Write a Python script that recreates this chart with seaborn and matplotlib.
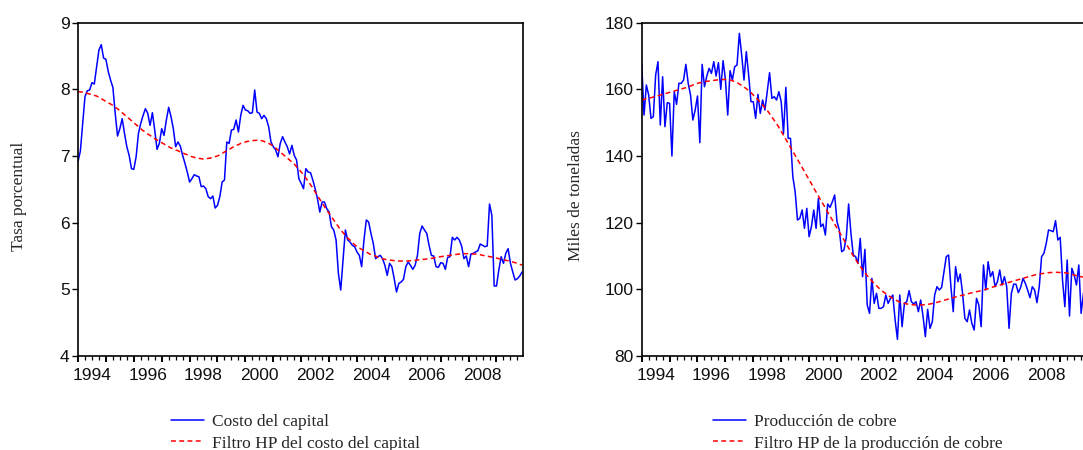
import numpy as np
import pandas as pd
import matplotlib
matplotlib.use("Agg")
import matplotlib.pyplot as plt
import seaborn as sns
from matplotlib.ticker import MultipleLocator, FixedLocator, NullFormatter

# ---------------- data (monthly, 1994M01 - 2009M12) ----------------
start_year = 1994

costo_capital = [
    6.92, 7.07, 7.49, 7.89, 7.98, 7.99, 8.10, 8.08, 8.34, 8.59,
    8.67, 8.47, 8.45, 8.27, 8.14, 8.03, 7.64, 7.30, 7.41, 7.56,
    7.34, 7.14, 7.01, 6.81, 6.80, 6.99, 7.34, 7.49, 7.61, 7.71,
    7.64, 7.46, 7.65, 7.39, 7.10, 7.19, 7.41, 7.31, 7.54, 7.73,
    7.59, 7.41, 7.14, 7.21, 7.15, 7.01, 6.89, 6.76, 6.61, 6.66,
    6.72, 6.70, 6.69, 6.54, 6.55, 6.51, 6.39, 6.36, 6.40, 6.22,
    6.26, 6.39, 6.61, 6.64, 7.21, 7.19, 7.39, 7.40, 7.54, 7.36,
    7.61, 7.76, 7.69, 7.68, 7.64, 7.65, 7.99, 7.66, 7.64, 7.56,
    7.61, 7.56, 7.44, 7.21, 7.14, 7.09, 6.99, 7.19, 7.29, 7.21,
    7.14, 7.03, 7.16, 7.01, 6.94, 6.66,
    6.59, 6.51, 6.81, 6.76, 6.75, 6.64, 6.51, 6.36, 6.16, 6.31,
    6.31, 6.21, 6.16, 5.94, 5.89, 5.74, 5.24, 4.99, 5.44, 5.89,
    5.74, 5.71, 5.66, 5.64, 5.56, 5.51, 5.34, 5.74, 6.04, 6.01,
    5.84, 5.69, 5.46, 5.49, 5.51, 5.46, 5.36, 5.21, 5.39, 5.34,
    5.16, 4.96, 5.09, 5.11, 5.15, 5.34, 5.41, 5.36, 5.30, 5.36,
    5.51, 5.84, 5.95, 5.89, 5.84, 5.66, 5.51, 5.50, 5.34, 5.33,
    5.40, 5.39, 5.30, 5.48, 5.49, 5.78, 5.74, 5.78, 5.74, 5.65,
    5.46, 5.50, 5.34, 5.53, 5.54, 5.56, 5.58, 5.68, 5.66, 5.64,
    5.65, 6.28, 6.11, 5.05, 5.05, 5.29, 5.49, 5.39, 5.54, 5.61,
    5.39, 5.26, 5.14, 5.16, 5.20, 5.26,
]

costo_hp = [
    7.97, 7.96, 7.96, 7.95, 7.94, 7.93, 7.92, 7.91, 7.90, 7.88,
    7.86, 7.84, 7.82, 7.80, 7.78, 7.76, 7.73, 7.71, 7.68, 7.65,
    7.62, 7.59, 7.56, 7.53, 7.50, 7.47, 7.44, 7.41, 7.38, 7.36,
    7.33, 7.31, 7.28, 7.26, 7.24, 7.22, 7.20, 7.18, 7.16, 7.14,
    7.12, 7.11, 7.09, 7.08, 7.06, 7.05, 7.03, 7.02, 7.00, 6.99,
    6.98, 6.97, 6.965, 6.96, 6.955, 6.96, 6.965, 6.97, 6.98, 6.99,
    7.00, 7.02, 7.04, 7.06, 7.08, 7.10, 7.12, 7.14, 7.16, 7.17,
    7.19, 7.20, 7.21, 7.22, 7.225, 7.23, 7.235, 7.235, 7.235, 7.23,
    7.22, 7.20, 7.19, 7.17, 7.15, 7.12, 7.09, 7.06, 7.03, 7.00,
    6.97, 6.94, 6.91, 6.88, 6.84, 6.80, 6.76, 6.72, 6.67, 6.62,
    6.57, 6.52, 6.46, 6.41, 6.35, 6.30, 6.24, 6.19, 6.14, 6.09,
    6.04, 5.99, 5.94, 5.89, 5.85, 5.81, 5.77, 5.74, 5.70, 5.67,
    5.64, 5.62, 5.60, 5.58, 5.56, 5.54, 5.52, 5.51, 5.50, 5.48,
    5.47, 5.46, 5.45, 5.445, 5.44, 5.435, 5.43, 5.43, 5.425, 5.425,
    5.425, 5.425, 5.425, 5.43, 5.43, 5.435, 5.44, 5.445, 5.45, 5.45,
    5.455, 5.46, 5.465, 5.47, 5.48, 5.485, 5.49, 5.495, 5.50, 5.505,
    5.51, 5.515, 5.52, 5.525, 5.53, 5.53, 5.535, 5.535, 5.535, 5.535,
    5.53, 5.53, 5.525, 5.52, 5.51, 5.505, 5.50, 5.49, 5.485, 5.48,
    5.47, 5.46, 5.455, 5.445, 5.435, 5.43, 5.42, 5.41, 5.40, 5.39,
    5.375, 5.365,
]

cobre = [
    167.8, 152.3, 161.3, 158.3, 151.3, 151.8, 164.3, 168.3, 149.3, 163.8,
    148.8, 156.0, 155.8, 140.0, 159.3, 155.5, 161.8, 161.8, 162.8, 167.5,
    161.8, 158.3, 150.8, 153.8, 158.0, 144.0, 167.5, 160.8, 164.0, 166.3,
    164.8, 168.3, 164.0, 168.0, 160.0, 168.6, 163.0, 152.3, 165.6, 162.8,
    166.8, 167.3, 176.8, 170.3, 162.8, 171.3, 164.3, 156.3, 156.3, 151.3,
    158.5, 152.8, 156.8, 153.8, 159.3, 165.0, 157.3, 157.8, 156.8, 159.3,
    156.3, 146.8, 160.6, 145.3, 145.3, 133.8, 129.3, 120.8, 121.3, 123.8,
    118.3, 124.3, 115.8, 118.8, 123.8, 118.3, 127.3, 118.8, 119.6, 116.3,
    125.6, 124.6, 126.3, 128.3, 120.3, 117.8,
    111.3, 111.8, 115.6, 125.6, 116.8, 110.3, 109.8, 107.8, 115.3, 103.8,
    112.0, 95.3, 92.8, 103.3, 95.8, 98.8, 94.3, 94.3, 94.8, 98.3,
    95.8, 97.3, 98.3, 90.8, 85.0, 98.3, 88.8, 95.8, 96.3, 99.6,
    96.3, 95.6, 96.3, 93.3, 96.8, 92.0, 85.8, 94.0, 88.3, 90.3,
    98.3, 100.8, 99.8, 100.6, 105.3, 109.8, 110.3, 100.8, 93.3, 106.8,
    102.3, 104.6, 98.8, 91.3, 90.3, 93.8, 89.8, 87.8, 97.3, 95.3,
    88.8, 107.3, 99.8, 108.3, 103.8, 105.3, 100.8, 102.3, 105.8, 101.3,
    103.8, 100.8, 88.3, 98.8, 101.6, 101.5, 99.0, 100.6, 103.3, 101.8,
    99.8, 97.5, 100.8, 99.8, 96.0, 100.8, 109.8, 110.8, 113.8, 117.8,
    117.6, 117.3, 120.6, 114.8, 115.6, 102.8, 94.8, 108.8, 92.0, 106.3,
    104.3, 101.3, 107.3, 92.8, 98.8, 100.0,
]

cobre_hp = [
    156.8, 157.0, 157.2, 157.3, 157.5, 157.7, 157.9, 158.1, 158.3, 158.5,
    158.7, 158.9, 159.1, 159.3, 159.5, 159.7, 159.9, 160.1, 160.3, 160.5,
    160.8, 161.0, 161.3, 161.5, 161.8, 162.0, 162.1, 162.3, 162.4, 162.5,
    162.6, 162.7, 162.8, 162.85, 162.9, 162.95, 163.0, 162.95, 162.8, 162.6,
    162.3, 162.0, 161.6, 161.2, 160.7, 160.2, 159.6, 159.0, 158.3, 157.6,
    156.9, 156.1, 155.3, 154.5, 153.7, 152.7, 151.7, 150.7, 149.7, 148.6,
    147.4, 146.2, 145.0, 143.8, 142.6, 141.4, 140.2, 139.0, 137.8, 136.6,
    135.3, 134.1, 132.9, 131.7, 130.4, 129.2, 128.0, 126.8, 125.6, 124.4,
    123.2, 122.0, 120.8, 119.6, 118.4, 117.2, 116.0, 114.8, 113.6, 112.4,
    111.2, 110.1, 109.0, 107.9, 106.9, 105.9, 105.0, 104.1, 103.3, 102.5,
    101.8, 101.1, 100.4, 99.8, 99.2, 98.7, 98.2, 97.7, 97.3, 96.9,
    96.5, 96.2, 96.0, 95.8, 95.6, 95.5, 95.4, 95.35, 95.3, 95.3,
    95.3, 95.35, 95.4, 95.5, 95.6, 95.75, 95.9, 96.1, 96.3, 96.5,
    96.7, 96.9, 97.1, 97.3, 97.5, 97.7, 97.9, 98.1, 98.2, 98.4,
    98.6, 98.8, 98.95, 99.1, 99.3, 99.45, 99.6, 99.8, 100.0, 100.2,
    100.4, 100.7, 100.9, 101.1, 101.3, 101.5, 101.7, 101.9, 102.1, 102.3,
    102.5, 102.7, 102.9, 103.1, 103.3, 103.5, 103.7, 103.9, 104.1, 104.3,
    104.5, 104.6, 104.7, 104.8, 104.9, 105.0, 105.05, 105.1, 105.1, 105.1,
    105.05, 105.0, 104.95, 104.85, 104.7, 104.5, 104.3, 104.1, 103.95, 103.8,
    103.65, 103.5,
]

year_labels = ["1994", "1996", "1998", "2000", "2002", "2004", "2006", "2008"]
left_labels = ["Costo del capital", "Filtro HP del costo del capital"]
right_labels = ["Producción de cobre", "Filtro HP de la producción de cobre"]
left_ylabel = "Tasa porcentual"
right_ylabel = "Miles de toneladas"

# ---------------- styling ----------------
sns.set_style("ticks")
plt.rcParams["font.family"] = ["Liberation Sans", "DejaVu Sans"]
SERIF = ["Liberation Serif", "DejaVu Serif"]

t = start_year + np.arange(len(costo_capital)) / 12.0
df_left = pd.DataFrame({"t": t, "serie": costo_capital, "hp": costo_hp})
df_right = pd.DataFrame({"t": t, "serie": cobre, "hp": cobre_hp})

fig = plt.figure(figsize=(10.83, 4.5), dpi=100)
ax1 = fig.add_axes([78 / 1083, 94 / 450, 445 / 1083, 333.3 / 450])
ax2 = fig.add_axes([641.7 / 1083, 94 / 450, 445 / 1083, 333.3 / 450])

BLUE = "#0000FF"
RED = "#FF0000"


def draw(ax, df, labels, ylim, yticks, ylabel, leg_x, lab_x):
    sns.lineplot(data=df, x="t", y="serie", ax=ax, color=BLUE, lw=1.1,
                 label=labels[0], legend=False)
    sns.lineplot(data=df, x="t", y="hp", ax=ax, color=RED, lw=1.1,
                 linestyle=(0, (3.2, 2.2)), label=labels[1], legend=False)
    ax.set_xlim(start_year, start_year + 15.95)
    ax.set_ylim(*ylim)
    ax.set_yticks(yticks)
    ax.set_xlabel("")
    ax.set_ylabel(ylabel, family=SERIF, fontsize=12.5)
    ax.yaxis.set_label_coords(lab_x, 0.48)
    for s in ax.spines.values():
        s.set_visible(True)
        s.set_linewidth(1.2)
        s.set_color("black")
    # x ticks: yearly major (bold), quarterly minor, labels at mid-year
    ax.xaxis.set_major_locator(MultipleLocator(1))
    ax.xaxis.set_minor_locator(MultipleLocator(0.25))
    ax.xaxis.set_major_formatter(NullFormatter())
    ax.tick_params(axis="x", which="major", direction="out", length=4.5,
                   width=1.4, color="black", top=False)
    ax.tick_params(axis="x", which="minor", direction="out", length=3,
                   width=0.9, color="black", top=False)
    ax.tick_params(axis="y", which="major", direction="out", length=4,
                   width=1.0, color="black", labelsize=12.5, pad=2,
                   right=False, labelcolor="#111111")
    sec = ax.secondary_xaxis("bottom")
    sec.xaxis.set_major_locator(FixedLocator([int(y) + 0.5 for y in year_labels]))
    sec.set_xticklabels(year_labels)
    sec.tick_params(axis="x", length=0, pad=9, labelsize=12.5,
                    labelcolor="#111111")
    sec.spines["bottom"].set_visible(False)
    handles, labs = ax.get_legend_handles_labels()
    ax.legend(handles, labs, loc="upper left",
              bbox_to_anchor=(leg_x, 36 / 450), bbox_transform=fig.transFigure,
              frameon=False, prop={"family": SERIF, "size": 12.5},
              handlelength=1.9, handletextpad=0.45, labelspacing=0.3,
              borderpad=0, borderaxespad=0)


draw(ax1, df_left, left_labels, (4, 9), [4, 5, 6, 7, 8, 9], left_ylabel,
     171 / 1083, -0.115)
draw(ax2, df_right, right_labels, (80, 180), [80, 100, 120, 140, 160, 180],
     right_ylabel, 713 / 1083, -0.13)

fig.savefig("out.png", dpi=100)
